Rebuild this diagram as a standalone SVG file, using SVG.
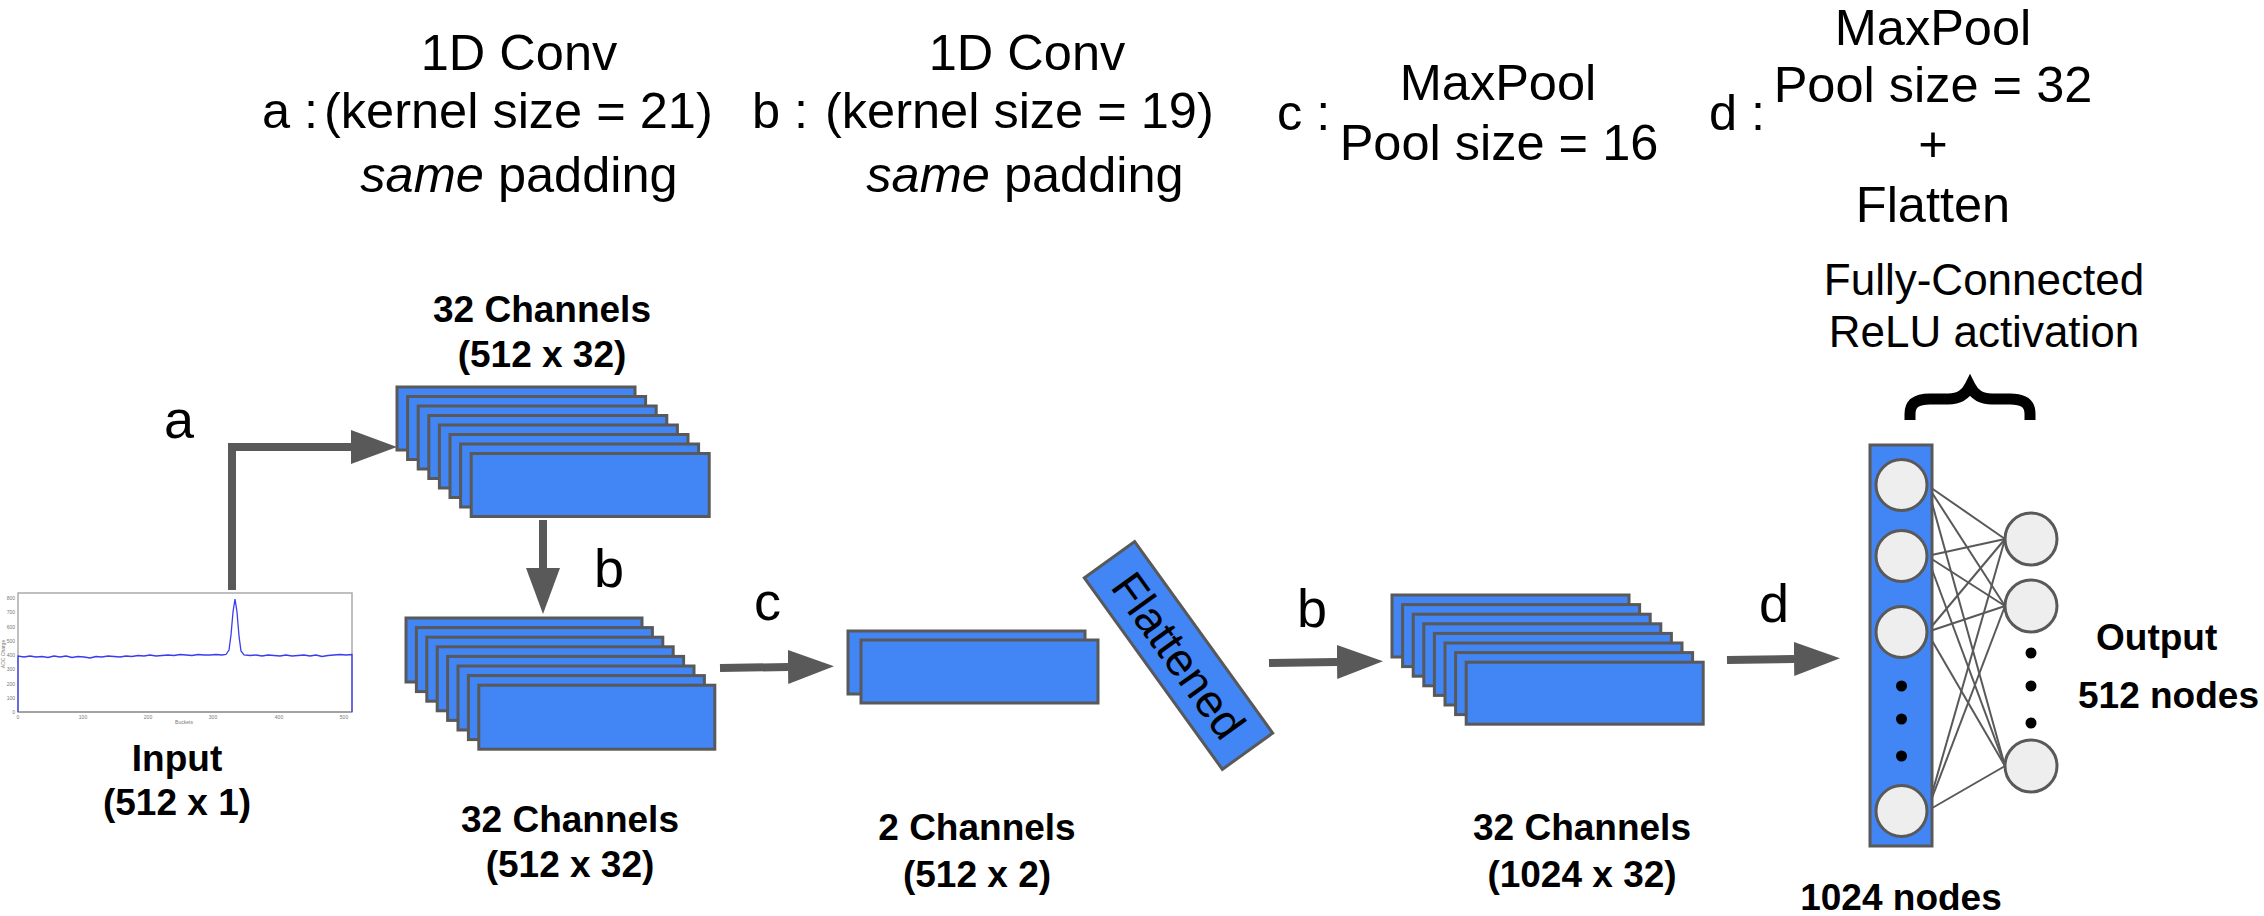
<svg xmlns="http://www.w3.org/2000/svg" width="2264" height="916" viewBox="0 0 2264 916">
<defs>
<style>
.t{font-family:"Liberation Sans",Arial,sans-serif;fill:#000}
.top{font-size:50.5px}
.fc{font-size:44px}
.lbl{font-size:54px}
.bold{font-size:37px;font-weight:bold}
.mid{text-anchor:middle}
.blk{fill:#4285F4;stroke:#595959;stroke-width:3}
.conn{stroke:#595959;stroke-width:8;fill:none;stroke-linejoin:miter}
.edge{stroke:#595959;stroke-width:2;fill:none}
.neu{fill:#EEEEEE;stroke:#595959;stroke-width:3}
.tick{font-family:"Liberation Sans",Arial,sans-serif;font-size:5px;fill:#777}
</style>
<marker id="ah" markerUnits="userSpaceOnUse" markerWidth="46" markerHeight="34" viewBox="0 0 46 34" refX="0" refY="17" orient="auto">
<path d="M0,0 L46,17 L0,34 z" fill="#595959"/>
</marker>
</defs>
<rect width="2264" height="916" fill="#fff"/>

<g id="annotations">
<text class="t top mid" x="519" y="70">1D Conv</text>
<text class="t top" x="262" y="128">a :</text>
<text class="t top" x="324" y="128">(kernel size = 21)</text>
<text class="t top mid" x="519" y="192"><tspan font-style="italic">same</tspan> padding</text>

<text class="t top mid" x="1027" y="70">1D Conv</text>
<text class="t top" x="752" y="128">b :</text>
<text class="t top" x="825" y="128">(kernel size = 19)</text>
<text class="t top mid" x="1025" y="192"><tspan font-style="italic">same</tspan> padding</text>

<text class="t top" x="1277" y="130">c :</text>
<text class="t top mid" x="1498" y="100">MaxPool</text>
<text class="t top mid" x="1499" y="160">Pool size = 16</text>

<text class="t top" x="1709" y="130">d :</text>
<text class="t top mid" x="1933" y="45">MaxPool</text>
<text class="t top mid" x="1933" y="102">Pool size = 32</text>
<text class="t top mid" x="1933" y="161">+</text>
<text class="t top mid" x="1933" y="222">Flatten</text>

<text class="t fc mid" x="1984" y="295">Fully-Connected</text>
<text class="t fc mid" x="1984" y="347">ReLU activation</text>
<path d="M1910,420 L1910,414 C1910,404 1916,399 1930,399 L1948,399 C1960,399 1966,394 1970,386 C1974,394 1980,399 1992,399 L2010,399 C2024,399 2030,404 2030,414 L2030,420" fill="none" stroke="#000" stroke-width="11"/>
</g>

<g id="input">
<rect x="18" y="593" width="334" height="119" fill="#fff" stroke="#aaa" stroke-width="1.5"/>
<line x1="18" y1="712" x2="352" y2="712" stroke="#888" stroke-width="1.2"/>
<polyline fill="none" stroke="#3b3bf0" stroke-width="1.3" points="18,712 18,656 24,657 30,656 36,657 42,656.5 48,657.5 54,656 60,657 66,656 72,657.5 78,656.5 84,657 90,658 96,656.5 102,657 108,656 114,656.5 120,657 126,656 132,656.5 138,655.5 144,656 150,655 156,656 162,655.5 168,655 174,655.5 180,654.5 186,655 192,655.5 198,654.5 204,655 210,655 216,654.5 222,655 226,654.5 229,650 231,635 233,612 235,599 237,612 239,636 241,651 244,655 250,655.5 256,655 262,656 268,655 274,655.5 280,656 286,655 292,656 298,655.5 304,655 310,656 316,655 322,656.5 328,655.5 334,655 340,654.5 346,655 352,654.5 352,712"/>
<g class="tick" text-anchor="end">
<text x="15" y="600">800</text><text x="15" y="614">700</text><text x="15" y="629">600</text><text x="15" y="643">500</text><text x="15" y="657">400</text><text x="15" y="671">300</text><text x="15" y="686">200</text><text x="15" y="700">100</text><text x="15" y="714">0</text>
</g>
<g class="tick" text-anchor="middle">
<text x="18" y="719">0</text><text x="83" y="719">100</text><text x="148" y="719">200</text><text x="213" y="719">300</text><text x="279" y="719">400</text><text x="344" y="719">500</text>
<text x="184" y="724">Buckets</text>
<text transform="translate(5,654) rotate(-90)">ADC Charge</text>
</g>
<text class="t bold mid" x="177" y="771">Input</text>
<text class="t bold mid" x="177" y="815">(512 x 1)</text>
</g>

<g id="conv1">
<text class="t bold mid" x="542" y="322">32 Channels</text>
<text class="t bold mid" x="542" y="367">(512 x 32)</text>
<rect class="blk" x="397" y="387" width="238" height="63"/>
<rect class="blk" x="407.6" y="396.5" width="238" height="63"/>
<rect class="blk" x="418.2" y="406" width="238" height="63"/>
<rect class="blk" x="428.8" y="415.5" width="238" height="63"/>
<rect class="blk" x="439.4" y="425" width="238" height="63"/>
<rect class="blk" x="450" y="434.5" width="238" height="63"/>
<rect class="blk" x="460.6" y="444" width="238" height="63"/>
<rect class="blk" x="471.2" y="453.5" width="238" height="63"/>
</g>

<g id="conv2">
<rect class="blk" x="406" y="618" width="236" height="64"/>
<rect class="blk" x="416.4" y="627.6" width="236" height="64"/>
<rect class="blk" x="426.8" y="637.2" width="236" height="64"/>
<rect class="blk" x="437.2" y="646.8" width="236" height="64"/>
<rect class="blk" x="447.6" y="656.4" width="236" height="64"/>
<rect class="blk" x="458" y="666" width="236" height="64"/>
<rect class="blk" x="468.4" y="675.6" width="236" height="64"/>
<rect class="blk" x="478.8" y="685.2" width="236" height="64"/>
<text class="t bold mid" x="570" y="832">32 Channels</text>
<text class="t bold mid" x="570" y="877">(512 x 32)</text>
</g>

<g id="pool">
<rect class="blk" x="848" y="631" width="237" height="63"/>
<rect class="blk" x="861" y="640" width="237" height="63"/>
<text class="t bold mid" x="977" y="840">2 Channels</text>
<text class="t bold mid" x="977" y="887">(512 x 2)</text>
</g>

<g id="flattened" transform="translate(1178.5,655.5) rotate(54.2)">
<rect class="blk" x="-118" y="-31" width="236" height="62" stroke-width="2.5"/>
<text class="t mid" x="0" y="16" font-size="46">Flattened</text>
</g>

<g id="conv3">
<rect class="blk" x="1392" y="595" width="237" height="62"/>
<rect class="blk" x="1402.6" y="604.6" width="237" height="62"/>
<rect class="blk" x="1413.2" y="614.2" width="237" height="62"/>
<rect class="blk" x="1423.8" y="623.8" width="237" height="62"/>
<rect class="blk" x="1434.4" y="633.4" width="237" height="62"/>
<rect class="blk" x="1445" y="643" width="237" height="62"/>
<rect class="blk" x="1455.6" y="652.6" width="237" height="62"/>
<rect class="blk" x="1466.2" y="662.2" width="237" height="62"/>
<text class="t bold mid" x="1582" y="840">32 Channels</text>
<text class="t bold mid" x="1582" y="887">(1024 x 32)</text>
</g>

<g id="connectors">
<path class="conn" d="M232,590 L232,447 L351,447" marker-end="url(#ah)"/>
<path class="conn" d="M543,520 L543,568" marker-end="url(#ah)"/>
<path class="conn" d="M720,668 L788,667" marker-end="url(#ah)"/>
<path class="conn" d="M1269,663 L1337,662" marker-end="url(#ah)"/>
<path class="conn" d="M1727,660 L1794,659" marker-end="url(#ah)"/>
<text class="t lbl" x="164" y="438">a</text>
<text class="t lbl" x="594" y="587">b</text>
<text class="t lbl" x="754" y="620">c</text>
<text class="t lbl" x="1297" y="627">b</text>
<text class="t lbl" x="1759" y="622">d</text>
<g id="fc-edges" class="edge">
<line x1="1927" y1="485" x2="2005" y2="539"/><line x1="1927" y1="485" x2="2005" y2="606"/><line x1="1927" y1="485" x2="2005" y2="766"/>
<line x1="1927" y1="556" x2="2005" y2="539"/><line x1="1927" y1="556" x2="2005" y2="606"/><line x1="1927" y1="556" x2="2005" y2="766"/>
<line x1="1927" y1="632" x2="2005" y2="539"/><line x1="1927" y1="632" x2="2005" y2="606"/><line x1="1927" y1="632" x2="2005" y2="766"/>
<line x1="1927" y1="811" x2="2005" y2="539"/><line x1="1927" y1="811" x2="2005" y2="606"/><line x1="1927" y1="811" x2="2005" y2="766"/>
</g>
</g>

<g id="dense">
<rect class="blk" x="1870" y="445" width="62" height="401"/>
<circle class="neu" cx="1901.5" cy="485" r="25.5"/>
<circle class="neu" cx="1901.5" cy="556" r="25.5"/>
<circle class="neu" cx="1901.5" cy="632" r="25.5"/>
<circle class="neu" cx="1901.5" cy="811" r="25.5"/>
<circle cx="1901.5" cy="686" r="5.5" fill="#000"/>
<circle cx="1901.5" cy="719" r="5.5" fill="#000"/>
<circle cx="1901.5" cy="756" r="5.5" fill="#000"/>
<text class="t bold mid" x="1901" y="910">1024 nodes</text>
</g>

<g id="output">
<circle class="neu" cx="2031" cy="539" r="26"/>
<circle class="neu" cx="2031" cy="606" r="26"/>
<circle class="neu" cx="2031" cy="766" r="26"/>
<circle cx="2031" cy="653" r="5.5" fill="#000"/>
<circle cx="2031" cy="686" r="5.5" fill="#000"/>
<circle cx="2031" cy="723" r="5.5" fill="#000"/>
<text class="t bold" x="2096" y="650">Output</text>
<text class="t bold" x="2078" y="708">512 nodes</text>
</g>
</svg>
